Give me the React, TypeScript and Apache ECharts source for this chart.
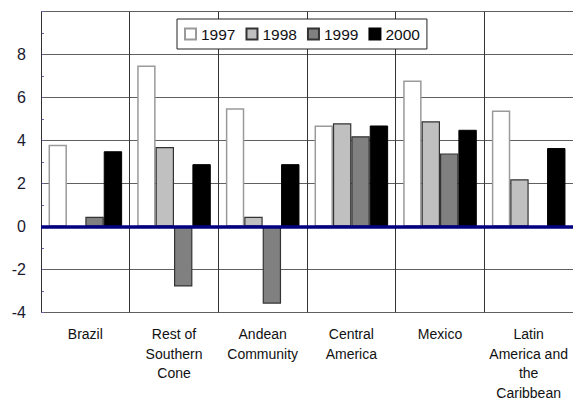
import React, { useEffect, useRef } from "react";
import * as echarts from "echarts";

// Regions along the horizontal axis
const categories = [
  "Brazil",
  "Rest of\nSouthern\nCone",
  "Andean\nCommunity",
  "Central\nAmerica",
  "Mexico",
  "Latin\nAmerica and\nthe\nCaribbean",
];

// Growth by year (null = no bar)
const years = ["1997", "1998", "1999", "2000"];
const values1997 = [3.8, 7.5, 5.5, 4.7, 6.8, 5.4];
const values1998 = [null, 3.7, 0.45, 4.8, 4.9, 2.2];
const values1999 = [0.45, -2.8, -3.6, 4.2, 3.4, null];
const values2000 = [3.5, 2.9, 2.9, 4.7, 4.5, 3.65];

// Value axis range
const yMin = -4;
const yMax = 10;
const yStep = 2;

const FONT = "Arial, 'Liberation Sans', sans-serif";

export default function App() {
  const ref = useRef<HTMLDivElement>(null);

  useEffect(() => {
    document.body.style.margin = "0";
    if (!ref.current) return;
    const chart = echarts.init(ref.current, null, { renderer: "svg" });

    const styles = [
      { color: "#ffffff", borderColor: "#9a9a9a", borderWidth: 1.5 },
      { color: "#c0c0c0", borderColor: "#333333", borderWidth: 1.2 },
      { color: "#808080", borderColor: "#333333", borderWidth: 1.2 },
      { color: "#000000", borderColor: "#000000", borderWidth: 1 },
    ];
    const data = [values1997, values1998, values1999, values2000];

    const series: any[] = years.map((name, i) => ({
      name,
      type: "bar",
      data: data[i],
      barGap: "0%",
      barCategoryGap: "17%",
      itemStyle: styles[i],
      emphasis: { disabled: true },
    }));
    // Thick zero line across the plot
    series[0].markLine = {
      silent: true,
      symbol: "none",
      label: { show: false },
      lineStyle: { color: "#000080", width: 3.5, type: "solid" },
      data: [{ yAxis: 0 }],
    };

    chart.setOption({
      animation: false,
      textStyle: { fontFamily: FONT },
      grid: {
        left: 41,
        right: 0,
        top: 11.7,
        bottom: 87.7,
        containLabel: false,
        outerBoundsMode: "none",
      },
      legend: {
        data: years,
        left: 177,
        top: 19,
        padding: [7, 7],
        itemWidth: 11,
        itemHeight: 11,
        itemGap: 10,
        icon: "rect",
        borderColor: "#222",
        borderWidth: 1,
        backgroundColor: "#fff",
        textStyle: { fontSize: 15.5, color: "#111", fontFamily: FONT },
      },
      xAxis: {
        type: "category",
        data: categories,
        position: "bottom",
        axisLine: { show: false },
        axisTick: { show: false },
        splitLine: { show: true, interval: 0, lineStyle: { color: "#333", width: 1 } },
        axisLabel: {
          interval: 0,
          margin: 12,
          fontSize: 14,
          lineHeight: 19.5,
          color: "#111",
          fontFamily: FONT,
          align: "center",
        },
        z: 3,
      },
      yAxis: {
        type: "value",
        min: yMin,
        max: yMax,
        interval: yStep,
        axisLine: { show: true, lineStyle: { color: "#7a5cb4", width: 1 } },
        axisTick: { show: true, inside: true, length: 3, lineStyle: { color: "#7a5cb4" } },
        minorTick: { show: true, splitNumber: 2, length: 3, lineStyle: { color: "#7a5cb4" } },
        splitLine: { show: true, lineStyle: { color: "#606060", width: 1 } },
        axisLabel: {
          margin: 15,
          fontSize: 16,
          color: "#1a1a30",
          fontFamily: FONT,
          formatter: (v: number) => (v === yMax ? "" : String(v)),
        },
      },
      series,
    });

    return () => chart.dispose();
  }, []);

  return <div ref={ref} style={{ width: 573, height: 400 }} />;
}
